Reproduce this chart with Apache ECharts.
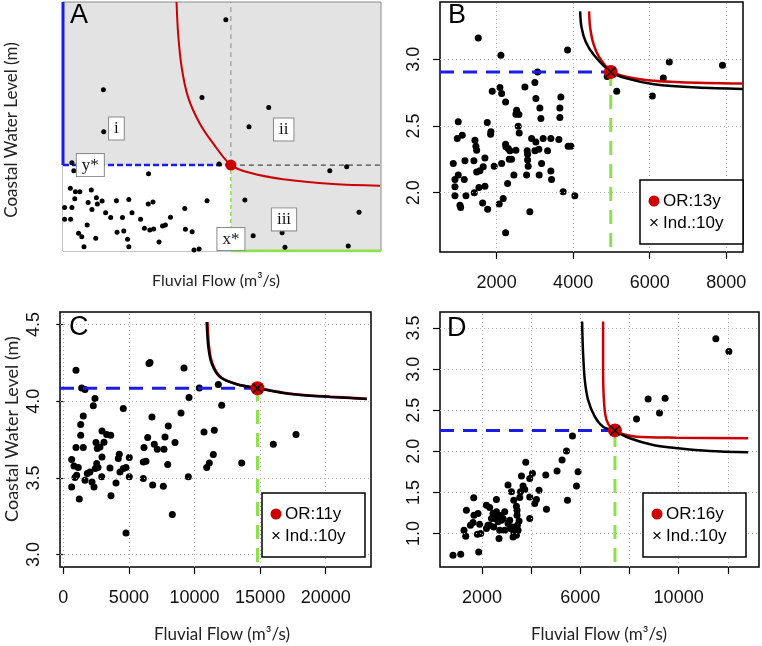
<!DOCTYPE html>
<html>
<head>
<meta charset="utf-8">
<script src="https://cdn.jsdelivr.net/npm/echarts@6/dist/echarts.min.js"></script>
<style>
html, body { margin: 0; padding: 0; background: #fff; }
#main { width: 762px; height: 646px; }
</style>
</head>
<body>
<div id="main"></div>
<script>
// ---- panel A : schematic, unitless 0..100 axes ----
var aPoints = [
  [51.2,92.9],[12.7,64.8],[12.8,47.9],[43.7,61.6],[64.7,57.6],[58.5,49.9],[2.8,35.4],[3.4,32.2],
  [26.9,31.0],[49.1,34.9],[83.9,32.2],[89.2,33.8],[57.2,20.5],[93.1,15.6],[59.8,6.1],[68.9,7.3],
  [69.8,1.5],[89.7,2.0],[41.2,0.4],[42.8,0.8],[45.3,20.2],[2.3,25.2],[3.9,23.8],[5.3,23.8],
  [8.9,24.5],[3.7,21.0],[0.5,17.5],[2.8,17.5],[7.9,19.5],[10.5,21.4],[12.3,20.1],[10.8,18.9],
  [9.1,16.7],[16.8,20.2],[20.7,20.7],[26.8,18.9],[28.3,19.7],[13.4,15.4],[15.0,13.5],[18.7,13.5],
  [21.7,15.4],[24.4,12.8],[33.8,13.6],[38.3,17.1],[0.5,12.8],[2.4,12.8],[7.6,10.4],[4.9,7.1],
  [5.9,5.7],[10.3,5.1],[6.6,1.7],[17.0,7.5],[19.1,8.0],[20.3,4.7],[20.7,1.7],[25.6,9.1],
  [27.3,8.4],[28.5,8.8],[31.3,10.0],[32.2,10.4],[30.2,3.6],[38.5,8.7],[40.6,7.7]
];
var aCurve = [
  [35.7,100],[36.2,87.3],[37.3,73.9],[39.3,61.9],[43.0,51.2],[47.2,43.2],[52.8,34.5],
  [58.8,31.4],[69.2,28.8],[85.0,26.9],[99.7,26.2]
];
var aStar = [52.8, 34.5];
var aBoxes = [[16.8,49.2,'i'],[69.4,48.8,'ii'],[69.5,12.7,'iii'],[8.6,34.5,'y*'],[52.8,4.8,'x*']];

// ---- panel B ----
var bPoints = [
  [1520,3.16],[2112,3.03],[3854,3.07],[6513,2.98],[7904,2.955],[6357,2.86],[5139,2.76],[6070,2.725],[4890,2.87],
  [3071,2.905],[3000,2.826],[2739,2.793],[1885,2.76],[2086,2.788],[2131,2.743],[2235,2.68],[3026,2.706],
  [3679,2.718],[3131,2.635],[3653,2.635],[3157,2.556],[3653,2.564],[2522,2.618],[2504,2.588],[2582,2.586],
  [2564,2.499],[997,2.531],[1755,2.526],[1851,2.456],[2590,2.448],[1102,2.431],[971,2.406],[1843,2.439],
  [1433,2.394],[1459,2.349],[1478,2.319],[2235,2.364],[2303,2.332],[2347,2.314],[2243,2.344],[2504,2.319],
  [2799,2.314],[2809,2.289],[2914,2.406],[3026,2.381],[3217,2.406],[3418,2.406],[3627,2.399],[3000,2.314],
  [3104,2.326],[3332,2.314],[3870,2.349],[3940,2.349],[867,2.219],[1172,2.239],[1407,2.239],[1694,2.261],
  [1650,2.194],[1564,2.164],[1478,2.156],[1937,2.199],[2131,2.219],[2825,2.199],[3175,2.219],[3418,2.162],
  [2452,2.132],[2783,2.132],[3112,2.132],[3436,2.10],[2287,2.07],[997,2.132],[911,2.10],[1154,2.10],
  [911,2.044],[1538,2.04],[1694,2.049],[1415,2.0],[911,1.977],[1198,1.977],[1042,1.907],[1060,1.89],
  [1634,1.924],[1765,1.877],[2068,1.915],[2172,1.957],[2869,1.857],[2235,1.70],[3739,2.007],[4044,1.977],
  [2330,2.25],[2390,2.25],[2809,2.245]
];
var bCurveOR = [[4417,3.359],[4443,3.242],[4530,3.117],[4678,3.017],[4983,2.912],[5331,2.873],[5939,2.843],[6809,2.828],[8435,2.818]];
var bCurveInd = [[4183,3.359],[4217,3.242],[4331,3.13],[4548,3.03],[4983,2.905],[5417,2.855],[6113,2.813],[7244,2.788],[8435,2.778]];
var bStar = [4983, 2.905];
var bXTicks = [2000, 4000, 6000, 8000];
var bYTicks = [2.0, 2.5, 3.0];

// ---- panel C ----
var cPoints = [
  [968,4.202],[6532,4.246],[6608,4.252],[9200,4.217],[1402,4.087],[1654,4.076],[10366,4.087],[2416,4.018],
  [2288,3.97],[4573,3.952],[9581,4.024],[1524,3.904],[6760,3.898],[8970,3.924],[1326,3.848],[8003,3.839],
  [2950,3.806],[3308,3.783],[3613,3.778],[1326,3.778],[6433,3.763],[7752,3.767],[8514,3.731],[968,3.698],
  [1524,3.698],[2492,3.731],[2593,3.692],[2797,3.702],[3102,3.733],[6937,3.72],[7166,3.687],[7675,3.687],
  [6151,3.698],[640,3.62],[816,3.578],[1143,3.568],[2546,3.594],[2950,3.637],[4268,3.655],[4192,3.627],
  [5030,3.633],[2439,3.561],[2645,3.568],[3559,3.565],[6098,3.604],[6303,3.609],[4573,3.561],[4779,3.568],
  [4322,3.539],[1829,3.529],[2035,3.539],[1654,3.485],[892,3.503],[1021,3.518],[2927,3.507],[5030,3.507],
  [6098,3.496],[9530,3.507],[640,3.441],[2188,3.474],[2340,3.441],[4017,3.467],[1220,3.363],[3636,3.383],
  [6811,3.454],[7624,3.446],[7957,3.587],[8308,3.261],[4779,3.141],[11814,4.109],[12073,3.974],[10724,3.80],
  [11509,3.811],[16006,3.72],[17736,3.783],[11433,3.652],[11128,3.598],[10930,3.568],[13598,3.598]
];
var cCurveOR = [[10990,4.517],[11110,4.354],[11360,4.246],[11990,4.158],[13250,4.111],[14820,4.085],[16780,4.056],[18560,4.039],[20330,4.03],[23125,4.017]];
var cCurveInd = [[10930,4.517],[11052,4.354],[11311,4.246],[11944,4.158],[13216,4.111],[14800,4.085],[16768,4.054],[18552,4.037],[20328,4.028],[23125,4.015]];
var cStar = [14800, 4.085];
var cXTicks = [0, 5000, 10000, 15000, 20000];
var cYTicks = [3.0, 3.5, 4.0, 4.5];

// ---- panel D ----
var dPoints = [
  [819,0.735],[1133,0.748],[1866,0.776],[1813,0.99],[1336,0.967],[1267,1.04],[1634,1.134],[1528,1.101],
  [1365,1.284],[1662,1.434],[1674,1.223],[1837,1.244],[1906,1.113],[2179,1.345],[2313,1.317],[2586,1.415],
  [2448,1.244],[2586,1.264],[2720,1.223],[2383,1.183],[2517,1.183],[2313,1.101],[2476,1.081],[2179,1.061],
  [2692,0.939],[2651,1.142],[2790,1.162],[2855,1.183],[2924,1.264],[3058,1.589],[3197,1.507],[3291,1.406],
  [3058,1.122],[3156,1.061],[3128,1.162],[3262,0.959],[3400,0.979],[3291,1.02],[3466,1.04],[3441,1.101],
  [3506,1.154],[3425,1.223],[3425,1.284],[3400,1.333],[3535,1.439],[3563,1.507],[3669,1.577],[3738,1.537],
  [3604,1.699],[3779,1.866],[3942,1.671],[4052,1.732],[3942,1.446],[3942,1.183],[4145,1.366],[4215,1.415],
  [4320,1.528],[4593,1.711],[4622,1.296],[5053,1.76],[5257,1.894],[5436,2.004],[5680,2.187],[5477,1.406],
  [5843,1.577],[5908,1.751],[1946,1.0],[2244,1.102],[2461,1.203],[2719,1.041],[2923,1.041],[3235,1.081],
  [11514,3.37],[12043,3.215],[8758,2.638],[9450,2.646],[9222,2.467],[8286,2.394]
];
var dCurveOR = [[6926,3.58],[6926,2.991],[6967,2.585],[7064,2.382],[7268,2.28],[7606,2.22],[8286,2.178],[9914,2.166],[12829,2.159]];
var dCurveInd = [[6071,3.58],[6112,3.195],[6181,2.87],[6315,2.626],[6588,2.422],[6926,2.30],[7402,2.245],[8013,2.159],[8961,2.077],[9979,2.037],[11270,2.004],[12829,1.988]];
var dStar = [7410, 2.255];
var dXTicks = [2000, 4000, 6000, 8000, 10000, 12000];
var dXLabels = [2000, 6000, 10000];
var dYTicks = [1.0, 1.5, 2.0, 2.5, 3.0, 3.5];

var legendOR = ['OR:13y', 'OR:11y', 'OR:16y'];
var legendInd = ['Ind.:10y', 'Ind.:10y', 'Ind.:10y'];

var myChart = echarts.init(document.getElementById('main'));

var RED = '#cc0000', BLUE = '#1c1ce6', GREEN = '#8ee04e';
var SANS = 'Liberation Sans';
var crossPath = 'path://M0,1L1,0L5,4L9,0L10,1L6,5L10,9L9,10L5,6L1,10L0,9L4,5Z';

var grids = [
  { left: 63, top: 2, width: 318, height: 249, show: true, backgroundColor: '#e3e3e3', borderColor: '#8a8a8a', borderWidth: 1 },
  { left: 440, top: 2, width: 303, height: 250, show: true, borderColor: '#000', borderWidth: 1.5 },
  { left: 60, top: 312, width: 311, height: 255, show: true, borderColor: '#000', borderWidth: 1.5 },
  { left: 440, top: 312, width: 319, height: 255, show: true, borderColor: '#000', borderWidth: 1.5 }
];

function valAxis(grid, min, max, ticks, labels, isY, fmt) {
  return {
    type: 'value', gridIndex: grid, min: min, max: max,
    axisLine: { show: false },
    splitLine: { show: false },
    axisTick: { show: true, customValues: ticks, length: 7, lineStyle: { color: '#000', width: 1.2 } },
    axisLabel: {
      customValues: labels, fontFamily: SANS, fontSize: 18, color: '#111',
      margin: isY ? 17 : 22, rotate: isY ? 90 : 0,
      formatter: fmt
    }
  };
}
function fmtInt(v) { return String(v); }
function fmt1(v) { return v.toFixed(1); }

var xAxes = [
  { type: 'value', gridIndex: 0, min: 0, max: 100, show: false },
  valAxis(1, 520, 8440, bXTicks, bXTicks, false, fmtInt),
  valAxis(2, -250, 23450, cXTicks, cXTicks, false, fmtInt),
  valAxis(3, 290, 13270, dXTicks, dXLabels, false, fmtInt)
];
var yAxes = [
  { type: 'value', gridIndex: 0, min: 0, max: 100, show: false },
  valAxis(1, 1.556, 3.429, bYTicks, bYTicks, true, fmt1),
  valAxis(2, 2.919, 4.582, cYTicks, cYTicks, true, fmt1),
  valAxis(3, 0.593, 3.695, dYTicks, dYTicks, true, fmt1)
];

function lineS(idx, data, color, width, type, z) {
  return {
    type: 'line', xAxisIndex: idx, yAxisIndex: idx, data: data, symbol: 'none',
    lineStyle: { color: color, width: width, type: type || 'solid' }, z: z || 3, silent: true
  };
}

var series = [];

// panel A
series.push({
  type: 'scatter', xAxisIndex: 0, yAxisIndex: 0, data: aPoints, symbolSize: 5,
  itemStyle: { color: '#000', opacity: 1 }, z: 4,
  markArea: { silent: true, itemStyle: { color: '#fff', opacity: 1 }, data: [[{ coord: [0, 0] }, { coord: aStar }]] }
});
series.push(lineS(0, [[0, aStar[1]], [0, 100]], BLUE, 3));
series.push(lineS(0, [[0, aStar[1]], [aStar[0], aStar[1]]], BLUE, 2.5, [6, 3]));
series.push(lineS(0, [[aStar[0], aStar[1]], [100, aStar[1]]], '#222', 1, [5, 4]));
series.push(lineS(0, [[aStar[0], aStar[1]], [aStar[0], 100]], '#888', 1, [5, 4]));
series.push(lineS(0, [[aStar[0], 0], [aStar[0], aStar[1]]], GREEN, 1.5, [4, 3]));
series.push(lineS(0, [[aStar[0], 0], [100, 0]], GREEN, 3));
var aCurveS = lineS(0, aCurve, RED, 2, 'solid', 5);
aCurveS.smooth = 0.3;
series.push(aCurveS);
series.push({ type: 'scatter', xAxisIndex: 0, yAxisIndex: 0, data: [aStar], symbolSize: 11, itemStyle: { color: RED, opacity: 1 }, z: 6 });
series.push({
  type: 'scatter', xAxisIndex: 0, yAxisIndex: 0, data: aBoxes, symbolSize: 0, z: 7, silent: true,
  itemStyle: { opacity: 1 },
  label: {
    show: true, position: 'inside', formatter: function (p) { return p.value[2]; },
    fontFamily: 'Liberation Serif', fontSize: 17, color: '#111', opacity: 1,
    backgroundColor: '#fff', borderColor: '#8a8a8a', borderWidth: 1, padding: [3, 5, 2, 5]
  }
});

// panels B, C, D
var panels = [
  { pts: bPoints, or: bCurveOR, ind: bCurveInd, star: bStar, xt: bXTicks, yt: bYTicks },
  { pts: cPoints, or: cCurveOR, ind: cCurveInd, star: cStar, xt: cXTicks, yt: cYTicks },
  { pts: dPoints, or: dCurveOR, ind: dCurveInd, star: dStar, xt: dXTicks, yt: dYTicks }
];
panels.forEach(function (p, k) {
  var i = k + 1;
  var xMin = xAxes[i].min, yMin = yAxes[i].min;
  var gridLines = p.xt.map(function (v) { return { xAxis: v }; })
    .concat(p.yt.map(function (v) { return { yAxis: v }; }));
  series.push({
    type: 'scatter', xAxisIndex: i, yAxisIndex: i, data: p.pts, symbolSize: 7,
    itemStyle: { color: '#000', opacity: 1 }, z: 4,
    markLine: {
      silent: true, symbol: ['none', 'none'], label: { show: false },
      lineStyle: { color: '#b5b5b5', width: 1, type: [1, 3] }, data: gridLines
    }
  });
  series.push(lineS(i, [[xMin, p.star[1]], [p.star[0], p.star[1]]], BLUE, 3, [14, 9], 5));
  series.push(lineS(i, [[p.star[0], yMin + (yAxes[i].max - yMin) * 0.02], [p.star[0], p.star[1]]], GREEN, 3, [14, 9], 5));
  var sOr = lineS(i, p.or, RED, 2.5, 'solid', 6); sOr.smooth = 0.3;
  var sInd = lineS(i, p.ind, '#000', 2.5, 'solid', 7); sInd.smooth = 0.3;
  series.push(sOr, sInd);
  series.push({ type: 'scatter', xAxisIndex: i, yAxisIndex: i, data: [p.star], symbolSize: 14, itemStyle: { color: RED, opacity: 1 }, z: 8 });
  series.push({ type: 'scatter', xAxisIndex: i, yAxisIndex: i, data: [p.star], symbol: crossPath, symbolSize: 10, itemStyle: { color: '#000', opacity: 1 }, z: 9 });
});

// legends, panel letters, axis titles
var legendPos = [[640, 180], [262, 493], [643, 493]];
var graphics = [];
legendPos.forEach(function (pos, k) {
  graphics.push({ type: 'rect', z: 100, shape: { x: pos[0], y: pos[1], width: 103, height: 64 }, style: { fill: '#fff', stroke: '#000', lineWidth: 1.5 } });
  graphics.push({ type: 'circle', z: 101, shape: { cx: pos[0] + 14, cy: pos[1] + 21, r: 5.5 }, style: { fill: RED } });
  graphics.push({ type: 'text', z: 101, x: pos[0] + 14, y: pos[1] + 43, style: { text: '×', font: '17px ' + SANS, fill: '#000', align: 'center', verticalAlign: 'middle' } });
  graphics.push({ type: 'text', z: 101, x: pos[0] + 23, y: pos[1] + 21, style: { text: legendOR[k], font: '17px ' + SANS, fill: '#000', verticalAlign: 'middle' } });
  graphics.push({ type: 'text', z: 101, x: pos[0] + 23, y: pos[1] + 43, style: { text: legendInd[k], font: '17px ' + SANS, fill: '#000', verticalAlign: 'middle' } });
});
[['A', 70, 16], ['B', 448, 16], ['C', 69, 328], ['D', 447, 329]].forEach(function (t) {
  graphics.push({ type: 'text', z: 100, x: t[1], y: t[2], style: { text: t[0], font: '27px ' + SANS, fill: '#000', verticalAlign: 'middle' } });
});
[
  ['Coastal Water Level (m)', 12, 130, true, 17],
  ['Fluvial Flow (m³/s)', 216, 281, false, 16],
  ['Coastal Water Level (m)', 12, 429, true, 18],
  ['Fluvial Flow (m³/s)', 222, 635, false, 17],
  ['Fluvial Flow (m³/s)', 599, 635, false, 17]
].forEach(function (t) {
  graphics.push({
    type: 'text', z: 100, x: t[1], y: t[2], rotation: t[3] ? Math.PI / 2 : 0,
    style: { text: t[0], font: t[4] + 'px Lato', fill: '#222', align: 'center', verticalAlign: 'middle' }
  });
});

option = {
  animation: false,
  backgroundColor: '#fff',
  grid: grids,
  xAxis: xAxes,
  yAxis: yAxes,
  series: series,
  graphic: graphics
};
myChart.setOption(option);
</script>
</body>
</html>
